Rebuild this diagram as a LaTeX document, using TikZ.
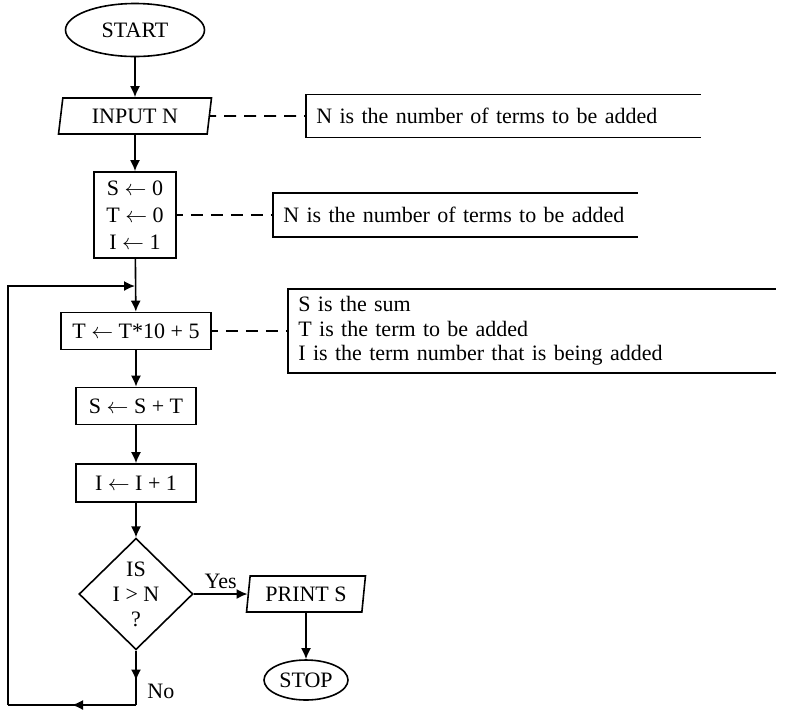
\documentclass[tikz,border=0pt]{standalone}
\usepackage{fontspec}
\setmainfont{Liberation Serif}
\usetikzlibrary{arrows.meta}
\usetikzlibrary{shapes.geometric}
\usetikzlibrary{decorations.markings}
\tikzset{>={Latex[length=5.5pt,width=5pt]}}
\newcommand{\assignto}{\ensuremath{\leftarrow}}
\tikzset{
    flow/.style={line width=0.8pt},
    procbox/.style={draw, line width=0.8pt, rectangle, inner sep=0pt, align=center},
    termbox/.style={draw, line width=0.8pt, ellipse, inner sep=0pt},
    iobox/.style={draw, line width=0.8pt, trapezium, trapezium left angle=80, trapezium right angle=100, trapezium stretches=true, inner sep=0pt},
    testbox/.style={draw, line width=0.8pt, diamond, inner sep=0pt, align=center},
    notebox/.style={anchor=west, inner xsep=5pt, inner ysep=0pt, align=left},
    notelink/.style={line width=0.8pt, dash pattern=on 6pt off 4pt, dash phase=3pt},
    midarrow/.style={postaction={decorate}, decoration={markings, mark=at position #1 with {\arrow{>}}}}
}

\begin{document}
\begin{tikzpicture}[x=0.5pt, y=-0.5pt, font=\fontsize{11}{13.5}\selectfont]
            \useasboundingbox (0, 0) rectangle (788, 720);
            % main column
            \node[termbox, minimum width=69.5pt, minimum height=26.5pt] (start) at (135, 30) {START};
            \node[iobox, minimum width=76.5pt, minimum height=18pt] (input) at (135, 116) {INPUT N};
            \node[procbox, minimum width=41pt, minimum height=43pt] (init) at (135, 215) {S \assignto{} 0\\T \assignto{} 0\\I \assignto{} 1};
            \node[procbox, minimum width=75pt, minimum height=18.5pt] (term) at (136, 331) {T \assignto{} T*10 + 5};
            \node[procbox, minimum width=60pt, minimum height=18.5pt] (sum) at (136, 406) {S \assignto{} S + T};
            \node[procbox, minimum width=60pt, minimum height=19pt] (count) at (136, 483) {I \assignto{} I + 1};
            \node[testbox, minimum width=57pt, minimum height=53pt, font=\fontsize{11}{12.5}\selectfont] (test) at (136, 594) {IS\\I > N\\?};
            \node[iobox, minimum width=59.5pt, minimum height=18pt] (print) at (306, 594) {PRINT S};
            \node[termbox, minimum width=42pt, minimum height=20pt] (stop) at (306, 680) {STOP};

            % notes
            \node[notebox, text width=187pt, minimum height=21pt] (note1) at (306, 116) {N is the number of terms to be added};
            \node[notebox, text width=172pt, minimum height=21.5pt] (note2) at (273, 215) {N is the number of terms to be added};
            \node[notebox, text width=233.5pt, minimum height=41.5pt, font=\fontsize{11}{12.3}\selectfont] (note3) at (288, 331) {S is the sum\\T is the term to be added\\I is the term number that is being added};
            \foreach \n in {note1, note2, note3}
                \draw[flow] (\n.north east) -- (\n.north west) -- (\n.south west) -- (\n.south east);
            \draw[notelink] (input.east) -- (note1.west);
            \draw[notelink] (init.east) -- (note2.west);
            \draw[notelink] (term.east) -- (note3.west);

            % loop back
            \coordinate (nobend) at (136, 705);
            \coordinate (lowleft) at (8, 705);
            \coordinate (upleft) at (8, 286);
            \coordinate (join) at (135, 286);

            \draw[flow, ->] (start) -- (input);
            \draw[flow, ->] (input) -- (init);
            \draw[flow, ->] (init) -- (term);
            \draw[flow, ->] (term) -- (sum);
            \draw[flow, ->] (sum) -- (count);
            \draw[flow, ->] (count) -- (test);
            \draw[flow, ->] (test) -- (print) node[midway, above, yshift=-1pt] {Yes};
            \draw[flow, ->] (print) -- (stop);
            \draw[flow, midarrow=0.55] (test.south) -- (nobend) node[pos=0.75, right, xshift=2pt] {No};
            \draw[flow, midarrow=0.5] (nobend) -- (lowleft);
            \draw[flow, ->] (lowleft) -- (upleft) -- (join);
        \end{tikzpicture}
\end{document}
